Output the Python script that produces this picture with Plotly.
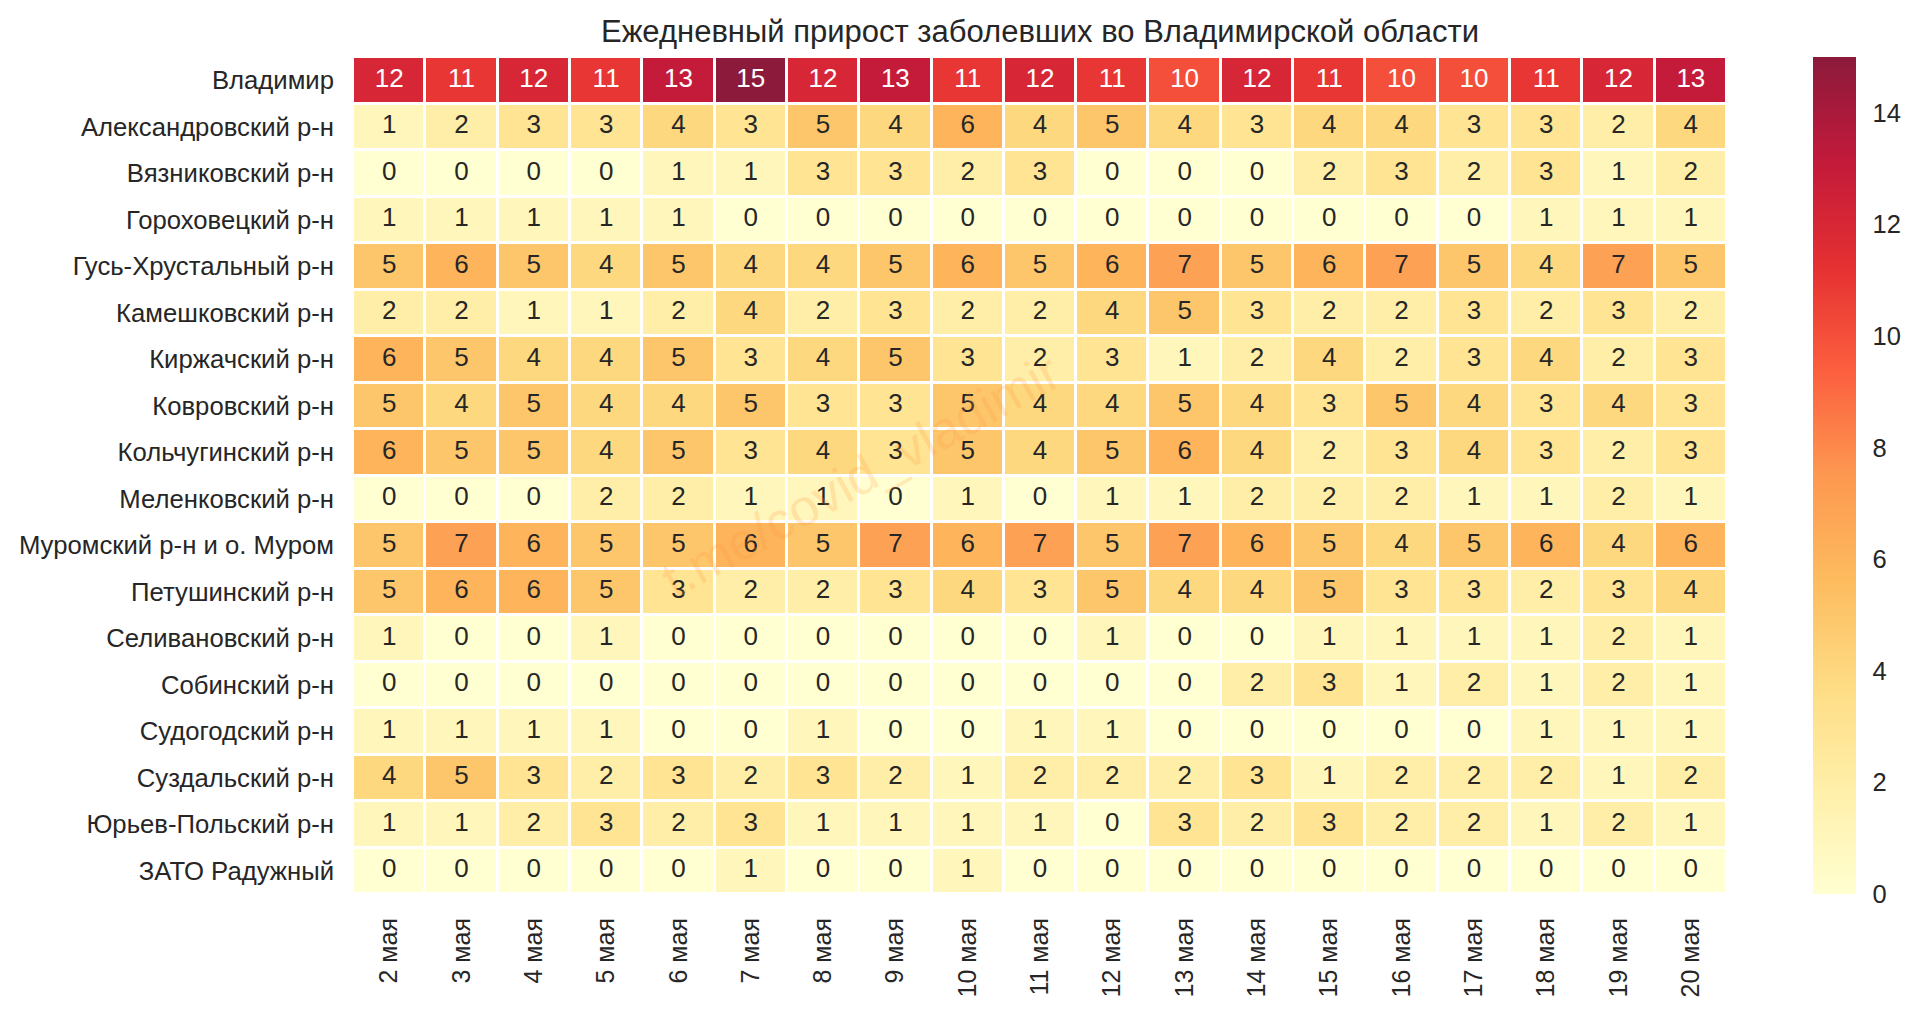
import plotly.graph_objects as go

days = ["2 мая", "3 мая", "4 мая", "5 мая", "6 мая", "7 мая", "8 мая", "9 мая", "10 мая", "11 мая",
        "12 мая", "13 мая", "14 мая", "15 мая", "16 мая", "17 мая", "18 мая", "19 мая", "20 мая"]

districts = ["Владимир", "Александровский р-н", "Вязниковский р-н", "Гороховецкий р-н",
             "Гусь-Хрустальный р-н", "Камешковский р-н", "Киржачский р-н", "Ковровский р-н",
             "Кольчугинский р-н", "Меленковский р-н", "Муромский р-н и о. Муром", "Петушинский р-н",
             "Селивановский р-н", "Собинский р-н", "Судогодский р-н", "Суздальский р-н",
             "Юрьев-Польский р-н", "ЗАТО Радужный"]

vladimir = [12, 11, 12, 11, 13, 15, 12, 13, 11, 12, 11, 10, 12, 11, 10, 10, 11, 12, 13]
aleksandrov = [1, 2, 3, 3, 4, 3, 5, 4, 6, 4, 5, 4, 3, 4, 4, 3, 3, 2, 4]
vyazniki = [0, 0, 0, 0, 1, 1, 3, 3, 2, 3, 0, 0, 0, 2, 3, 2, 3, 1, 2]
gorokhovets = [1, 1, 1, 1, 1, 0, 0, 0, 0, 0, 0, 0, 0, 0, 0, 0, 1, 1, 1]
gus = [5, 6, 5, 4, 5, 4, 4, 5, 6, 5, 6, 7, 5, 6, 7, 5, 4, 7, 5]
kameshkovo = [2, 2, 1, 1, 2, 4, 2, 3, 2, 2, 4, 5, 3, 2, 2, 3, 2, 3, 2]
kirzhach = [6, 5, 4, 4, 5, 3, 4, 5, 3, 2, 3, 1, 2, 4, 2, 3, 4, 2, 3]
kovrov = [5, 4, 5, 4, 4, 5, 3, 3, 5, 4, 4, 5, 4, 3, 5, 4, 3, 4, 3]
kolchugino = [6, 5, 5, 4, 5, 3, 4, 3, 5, 4, 5, 6, 4, 2, 3, 4, 3, 2, 3]
melenki = [0, 0, 0, 2, 2, 1, 1, 0, 1, 0, 1, 1, 2, 2, 2, 1, 1, 2, 1]
murom = [5, 7, 6, 5, 5, 6, 5, 7, 6, 7, 5, 7, 6, 5, 4, 5, 6, 4, 6]
petushki = [5, 6, 6, 5, 3, 2, 2, 3, 4, 3, 5, 4, 4, 5, 3, 3, 2, 3, 4]
selivanovo = [1, 0, 0, 1, 0, 0, 0, 0, 0, 0, 1, 0, 0, 1, 1, 1, 1, 2, 1]
sobinka = [0, 0, 0, 0, 0, 0, 0, 0, 0, 0, 0, 0, 2, 3, 1, 2, 1, 2, 1]
sudogda = [1, 1, 1, 1, 0, 0, 1, 0, 0, 1, 1, 0, 0, 0, 0, 0, 1, 1, 1]
suzdal = [4, 5, 3, 2, 3, 2, 3, 2, 1, 2, 2, 2, 3, 1, 2, 2, 2, 1, 2]
yuryev = [1, 1, 2, 3, 2, 3, 1, 1, 1, 1, 0, 3, 2, 3, 2, 2, 1, 2, 1]
raduzhny = [0, 0, 0, 0, 0, 1, 0, 0, 1, 0, 0, 0, 0, 0, 0, 0, 0, 0, 0]

rows = [vladimir, aleksandrov, vyazniki, gorokhovets, gus, kameshkovo, kirzhach, kovrov, kolchugino,
        melenki, murom, petushki, selivanovo, sobinka, sudogda, suzdal, yuryev, raduzhny]

# YlOrRd with alpha .9 over white
colors = ["#ffffd1", "#ffefa9", "#fedc84", "#fdbb5e", "#fd9850", "#fc5f3f", "#e53032", "#c31a3b", "#8c1a3b"]
text_dark = "#262626"
font_name = "Liberation Sans"

fig = go.Figure()
fig.add_trace(go.Heatmap(
    z=rows, x=days, y=districts, zmin=0, zmax=15, xgap=3, ygap=3,
    colorscale=[[i / 8, c] for i, c in enumerate(colors)],
    hoverongaps=False,
    colorbar=dict(
        thickness=43, len=1, lenmode='fraction', x=1.0626, xanchor='left', y=0.5, yanchor='middle',
        outlinewidth=0, ticks='outside', ticklen=12, tickcolor='rgba(0,0,0,0)', ypad=0, xpad=0,
        tickvals=[0, 2, 4, 6, 8, 10, 12, 14],
        tickfont=dict(size=25.5, color=text_dark, family=font_name),
    ),
))

# cell labels, white on the dark cells
xs, ys, labels, label_colors = [], [], [], []
for district, row in zip(districts, rows):
    for day, value in zip(days, row):
        xs.append(day)
        ys.append(district)
        labels.append(str(value))
        label_colors.append("white" if value >= 10 else text_dark)

fig.add_trace(go.Scatter(
    x=xs, y=ys, text=labels, mode='text', hoverinfo='skip', showlegend=False,
    textfont=dict(size=26, color=label_colors, family=font_name),
))

fig.add_annotation(
    text="t.me/covid_vladimir", xref='paper', yref='paper', x=0.369, y=0.5, showarrow=False, textangle=-29,
    font=dict(size=52, color="rgba(253,152,60,0.2)", family=font_name),
)

# the page keeps an 8px body margin, so the figure is 16px smaller than the window
fig.update_layout(
    template='plotly_white',
    paper_bgcolor='white',
    plot_bgcolor='white',
    width=1904,
    height=997,
    margin=dict(l=345, r=185, t=49, b=111, autoexpand=False),
    showlegend=False,
    title=dict(text="Ежедневный прирост заболевших во Владимирской области", x=0.542, xanchor='center',
               y=0.977, yanchor='middle', font=dict(size=31, color=text_dark, family=font_name)),
    xaxis=dict(range=[-0.5, 18.5], tickangle=-90, showgrid=False, zeroline=False, showline=False, ticks='',
               ticklabelstandoff=18, automargin=False, tickfont=dict(size=25, color=text_dark, family=font_name)),
    yaxis=dict(range=[17.5, -0.5], showgrid=False, zeroline=False, showline=False, ticks='',
               ticklabelstandoff=18, automargin=False, tickfont=dict(size=25.7, color=text_dark, family=font_name)),
)

fig.write_html("out.html")
